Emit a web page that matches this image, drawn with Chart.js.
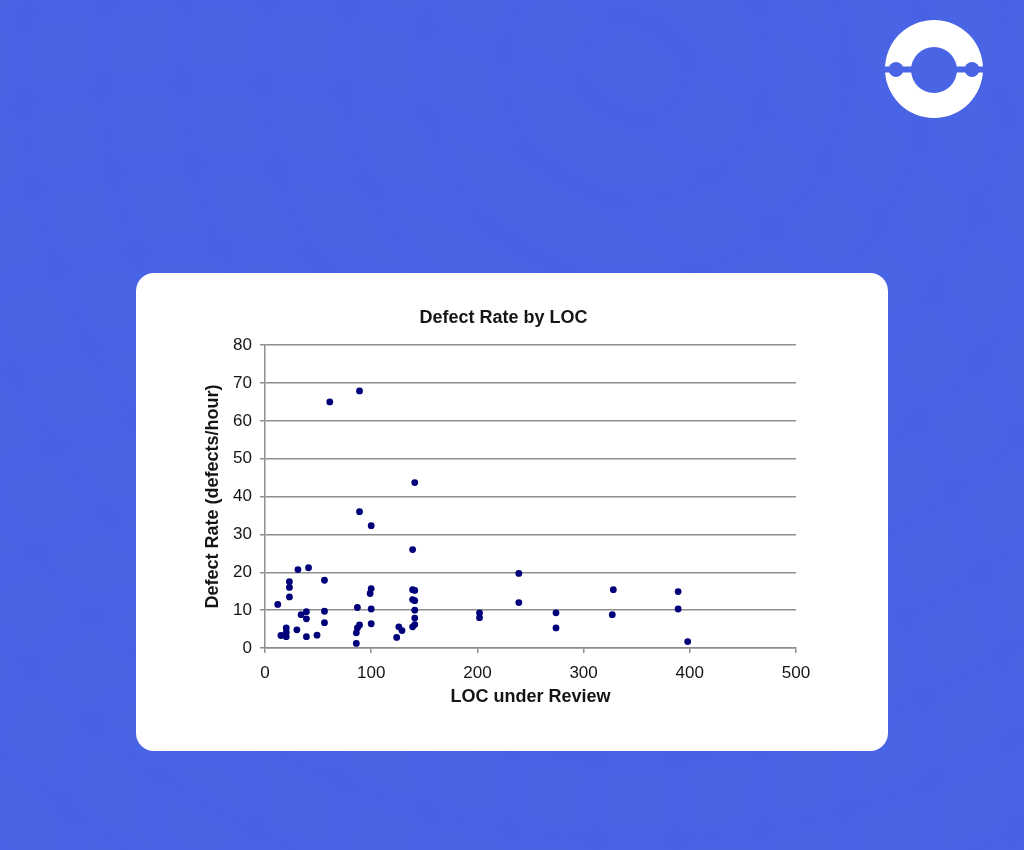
<!DOCTYPE html>
<html>
<head>
<meta charset="utf-8">
<title>Defect Rate by LOC</title>
<script src="https://cdn.jsdelivr.net/npm/chart.js@4"></script>
<style>
    html, body { margin: 0; padding: 0; }
    body {
        width: 1024px; height: 850px; position: relative; overflow: hidden;
        background-color: #4a64e6;
        background-image:
            repeating-radial-gradient(circle at 62% 8%, rgba(40,60,200,0.00) 0 38px, rgba(40,60,200,0.06) 52px, rgba(40,60,200,0.00) 66px 80px),
            repeating-radial-gradient(circle at 20% 95%, rgba(40,60,200,0.00) 0 40px, rgba(40,60,200,0.05) 55px, rgba(40,60,200,0.00) 70px 84px);
        font-family: "Liberation Sans", Arial, sans-serif;
    }
    .card {
        position: absolute; left: 136px; top: 273px; width: 752px; height: 478px;
        background: #fff; border-radius: 18px;
    }
    .card canvas { position: absolute; left: 0; top: 0; }
    .logo { position: absolute; left: 884px; top: 19px; }
</style>
</head>
<body>
<svg class="logo" width="100" height="100" viewBox="884 19 100 100">
    <circle cx="934" cy="69" r="49" fill="#ffffff"/>
    <circle cx="934" cy="70" r="23" fill="#4a64e6"/>
    <rect x="884" y="66.5" width="100" height="6" fill="#4a64e6"/>
    <circle cx="896" cy="69.5" r="7.5" fill="#4a64e6"/>
    <circle cx="972" cy="69.5" r="7.5" fill="#4a64e6"/>
</svg>
<div class="card">
    <canvas id="chart" width="752" height="478"></canvas>
</div>
<script>
// valores (LOC revisadas x taxa de defeitos)
var locValues = [61, 89, 141, 89, 100, 139, 31, 41, 56, 23, 23, 23, 12, 100, 99, 87, 100, 100,
    139, 141, 139, 141, 141, 141, 141, 139, 56, 56, 39, 34, 39, 30, 20, 20, 15, 20, 39, 49,
    89, 87, 86, 86, 126, 129, 124, 202, 202, 239, 239, 274, 274, 328, 327, 389, 389, 398];
var defectRates = [65.0, 67.9, 43.7, 36.0, 32.3, 26.0, 20.7, 21.2, 17.9, 17.5, 16.0, 13.5, 11.5, 15.7, 14.4, 10.7, 10.3, 6.4,
    15.4, 15.2, 12.8, 12.5, 10.0, 7.9, 6.2, 5.6, 9.7, 6.7, 9.6, 8.8, 7.7, 4.8, 5.3, 4.1, 3.3, 3.0, 3.0, 3.4,
    6.1, 5.3, 4.0, 1.2, 5.6, 4.6, 2.8, 9.3, 8.0, 19.7, 12.0, 9.3, 5.3, 15.4, 8.8, 14.9, 10.3, 1.7];
var xTicks = [0, 100, 200, 300, 400, 500];
var yTicks = [0, 10, 20, 30, 40, 50, 60, 70, 80];

(function () {
    "use strict";

    var GRID = "#8e8e8e";
    var TEXT = "#151515";
    var FONT = "'Liberation Sans', Arial, sans-serif";

    var pontos = locValues.map(function (x, i) { return { x: x, y: defectRates[i] }; });

    new Chart(document.getElementById("chart"), {
        type: "scatter",
        data: {
            datasets: [{
                label: "Defect Rate",
                data: pontos,
                backgroundColor: "#00007a",
                borderWidth: 0,
                pointRadius: 3.4
            }]
        },
        options: {
            responsive: false,
            animation: false,
            layout: { padding: { left: 75, right: 92, top: 0, bottom: 41 } },
            plugins: {
                legend: { display: false },
                tooltip: { enabled: false },
                title: {
                    display: true,
                    text: "Defect Rate by LOC",
                    color: TEXT,
                    font: { family: FONT, size: 18, weight: "bold" },
                    padding: { top: 34, bottom: 16.5 }
                }
            },
            scales: {
                x: {
                    type: "linear",
                    min: xTicks[0],
                    max: xTicks[xTicks.length - 1],
                    afterBuildTicks: function (s) { s.ticks = xTicks.map(function (v) { return { value: v }; }); },
                    afterFit: function (s) { s.height = 62; },
                    grid: { display: true, drawOnChartArea: false, drawTicks: true, tickLength: 5, color: GRID, lineWidth: 1.5 },
                    border: { color: GRID, width: 1.5 },
                    ticks: { color: TEXT, padding: 10, font: { family: FONT, size: 17 }, maxRotation: 0 },
                    title: {
                        display: true,
                        text: "LOC under Review",
                        color: TEXT,
                        font: { family: FONT, size: 18, weight: "bold" },
                        padding: { top: 4, bottom: 2 }
                    }
                },
                y: {
                    min: yTicks[0],
                    max: yTicks[yTicks.length - 1],
                    afterBuildTicks: function (s) { s.ticks = yTicks.map(function (v) { return { value: v }; }); },
                    afterFit: function (s) { s.width = 54; },
                    grid: { color: GRID, lineWidth: 1.5, tickLength: 5 },
                    border: { color: GRID, width: 1.5 },
                    ticks: { color: TEXT, padding: 8, font: { family: FONT, size: 17 } },
                    title: {
                        display: true,
                        text: "Defect Rate (defects/hour)",
                        color: TEXT,
                        font: { family: FONT, size: 18, weight: "bold" },
                        padding: { top: -9, bottom: 0 }
                    }
                }
            }
        }
    });
})();
</script>
</body>
</html>
